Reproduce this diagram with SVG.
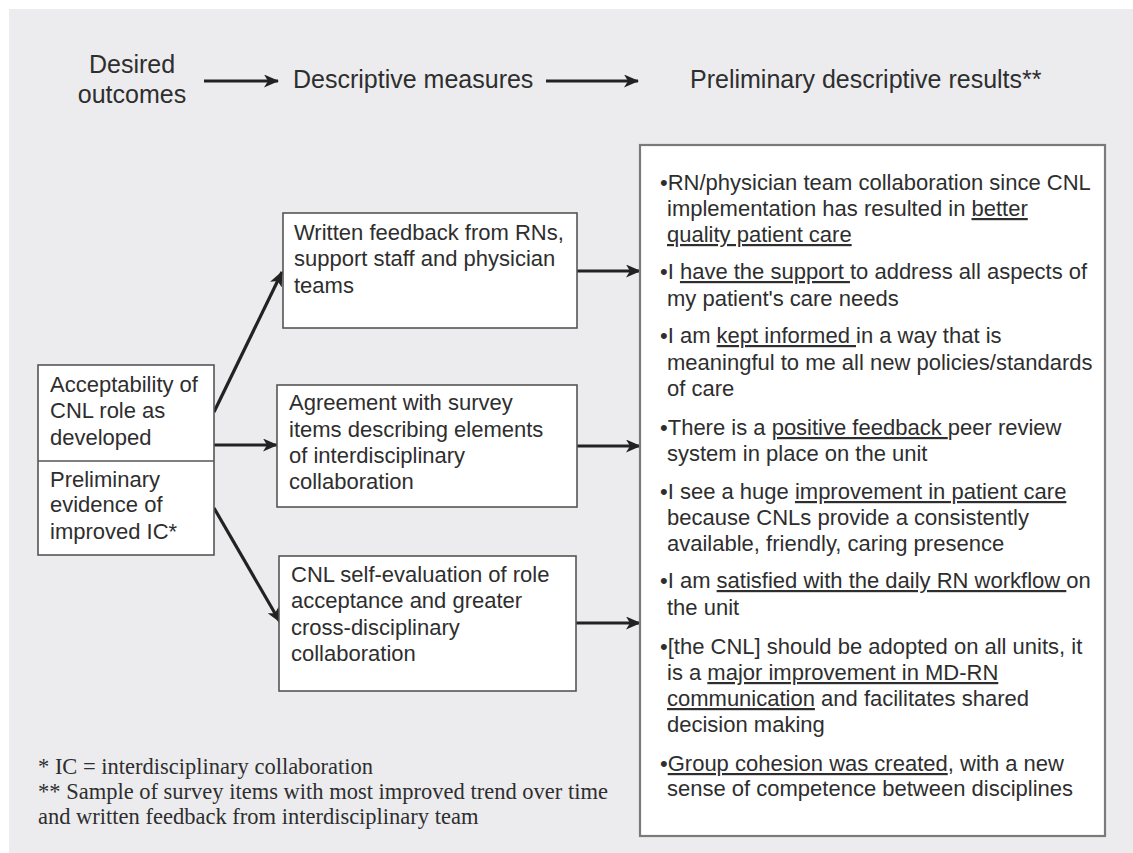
<svg xmlns="http://www.w3.org/2000/svg" width="1133" height="853" viewBox="0 0 1133 853">
<style>
.t{font-family:"Liberation Sans",Arial,sans-serif;font-size:22px;fill:#2e2e2e}
.h{font-family:"Liberation Sans",Arial,sans-serif;font-size:25px;fill:#2e2e2e}
.f{font-family:"Liberation Serif","Times New Roman",serif;font-size:22.5px;fill:#2e2e2e}
.u{text-decoration:underline}
.box{fill:#ffffff;stroke:#555555;stroke-width:1.6}
.big{fill:#ffffff;stroke:#7a7a7a;stroke-width:2.2}
.con{stroke:#222222;stroke-width:3.2;fill:none;marker-end:url(#ah)}
</style>
<defs>
<marker id="ah" markerUnits="userSpaceOnUse" viewBox="0 0 15 13" markerWidth="15" markerHeight="13" refX="14" refY="6.5" orient="auto">
<path d="M0,0 L15,6.5 L0,13 L4,6.5 Z" fill="#222222"/>
</marker>
</defs>
<rect x="0" y="0" width="1133" height="853" fill="#ffffff"/>
<rect x="9" y="9" width="1124" height="844" fill="#ececee"/>

<g id="header">
<text class="h" x="132" y="73" text-anchor="middle">Desired</text>
<text class="h" x="132" y="103" text-anchor="middle">outcomes</text>
<text class="h" x="293" y="88">Descriptive measures</text>
<text class="h" x="690" y="88">Preliminary descriptive results**</text>
</g>

<g id="connectors">
<line class="con" x1="204" y1="81" x2="278" y2="81"/>
<line class="con" x1="546" y1="81" x2="638" y2="81"/>
<line class="con" x1="214" y1="412" x2="282" y2="272"/>
<line class="con" x1="214" y1="445" x2="277" y2="445"/>
<line class="con" x1="214" y1="508" x2="280" y2="622"/>
<line class="con" x1="577" y1="271" x2="640" y2="271"/>
<line class="con" x1="577" y1="446" x2="640" y2="446"/>
<line class="con" x1="576" y1="623" x2="640" y2="623"/>
</g>

<g id="outcomes">
<rect class="box" x="38" y="365" width="176" height="190"/>
<line x1="38" y1="461" x2="214" y2="461" stroke="#555555" stroke-width="1.6"/>
<text class="t" x="50" y="392">Acceptability of</text>
<text class="t" x="50" y="418">CNL role as</text>
<text class="t" x="50" y="445">developed</text>
<text class="t" x="50" y="487">Preliminary</text>
<text class="t" x="50" y="512">evidence of</text>
<text class="t" x="50" y="539">improved IC*</text>
</g>

<g id="measure-written">
<rect class="box" x="283" y="213" width="294" height="115"/>
<text class="t" x="294" y="240">Written feedback from RNs,</text>
<text class="t" x="294" y="266">support staff and physician</text>
<text class="t" x="294" y="293">teams</text>
</g>

<g id="measure-survey">
<rect class="box" x="277" y="385" width="300" height="122"/>
<text class="t" x="289" y="410">Agreement with survey</text>
<text class="t" x="289" y="437">items describing elements</text>
<text class="t" x="289" y="463">of interdisciplinary</text>
<text class="t" x="289" y="489">collaboration</text>
</g>

<g id="measure-self">
<rect class="box" x="279" y="556" width="297" height="135"/>
<text class="t" x="291" y="582">CNL self-evaluation of role</text>
<text class="t" x="291" y="608">acceptance and greater</text>
<text class="t" x="291" y="635">cross-disciplinary</text>
<text class="t" x="291" y="661">collaboration</text>
</g>

<g id="results">
<rect class="big" x="640" y="145" width="465" height="691"/>
<text class="t" x="660" y="190">•RN/physician team collaboration since CNL</text>
<text class="t" x="667" y="216">implementation has resulted in <tspan class="u">better</tspan></text>
<text class="t" x="667" y="242"><tspan class="u">quality patient care</tspan></text>
<text class="t" x="660" y="279">•I <tspan class="u">have the support </tspan>to address all aspects of</text>
<text class="t" x="667" y="306">my patient's care needs</text>
<text class="t" x="660" y="343">•I am <tspan class="u">kept informed </tspan>in a way that is</text>
<text class="t" x="667" y="370">meaningful to me all new policies/standards</text>
<text class="t" x="667" y="396">of care</text>
<text class="t" x="660" y="435">•There is a <tspan class="u">positive feedback </tspan>peer review</text>
<text class="t" x="667" y="461">system in place on the unit</text>
<text class="t" x="660" y="499">•I see a huge <tspan class="u">improvement in patient care</tspan></text>
<text class="t" x="667" y="525">because CNLs provide a consistently</text>
<text class="t" x="667" y="551">available, friendly, caring presence</text>
<text class="t" x="660" y="588">•I am <tspan class="u">satisfied with the daily RN workflow </tspan>on</text>
<text class="t" x="667" y="615">the unit</text>
<text class="t" x="660" y="654">•[the CNL] should be adopted on all units, it</text>
<text class="t" x="667" y="680">is a <tspan class="u">major improvement in MD-RN</tspan></text>
<text class="t" x="667" y="706"><tspan class="u">communication</tspan> and facilitates shared</text>
<text class="t" x="667" y="732">decision making</text>
<text class="t" x="660" y="771">•<tspan class="u">Group cohesion was created</tspan>, with a new</text>
<text class="t" x="667" y="796">sense of competence between disciplines</text>
</g>

<g id="footnotes">
<text class="f" x="38" y="774">* IC = interdisciplinary collaboration</text>
<text class="f" x="38" y="799">** Sample of survey items with most improved trend over time</text>
<text class="f" x="38" y="824">and written feedback from interdisciplinary team</text>
</g>
</svg>
